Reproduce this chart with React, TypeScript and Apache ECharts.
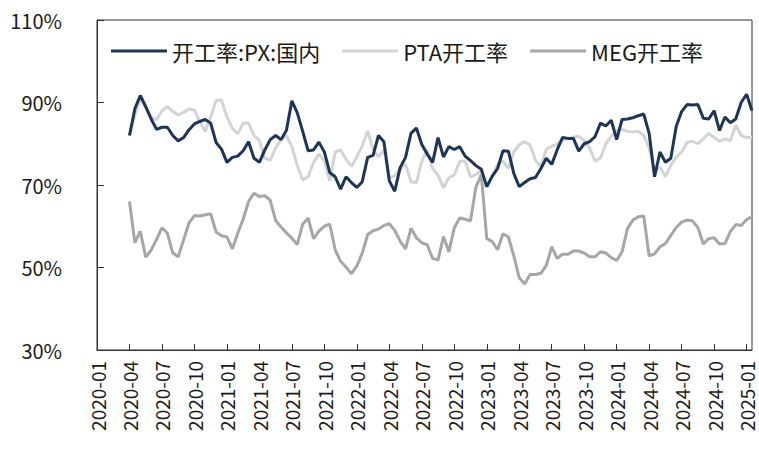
import React, { useEffect, useRef } from "react";
import * as echarts from "echarts";

// x positions: months since 2020-01, data every half month starting 2020-04
const startMonth = 3;
const stepMonth = 0.5;

const yTicks = [30, 50, 70, 90, 110];

const pxRate = [
  82, 88.5, 91.7, 89, 86, 83.5, 84, 84, 82, 80.7,
  81.5, 83.4, 84.8, 85.4, 85.9, 85, 80.3, 78.7, 75.5, 76.7,
  77, 78.3, 80.5, 76.5, 75.5, 78.5, 81, 82, 81, 83.3,
  90.4, 87.5, 83, 78.3, 78.5, 80.4, 78, 73, 72, 69,
  72, 70.6, 69.4, 70.8, 76.7, 77.2, 82, 80.5, 71, 68.5,
  74.2, 76.7, 82.5, 83.8, 79.8, 77.5, 75.5, 81.5, 76.8, 79.3,
  78.6, 79.3, 77, 75.9, 74.7, 73.8, 69.6, 72.1, 74, 78.3,
  78.2, 72.8, 69.6, 70.6, 71.5, 71.8, 74, 76.5, 75, 78.5,
  81.5, 81.3, 81.3, 78.2, 80, 80.5, 81.7, 85, 84.3, 85.7,
  81, 85.9, 86, 86.3, 86.8, 87.2, 82.5, 72, 78, 75.5,
  76.5, 84.2, 87.8, 89.5, 89.4, 89.5, 86.2, 86, 88, 83.2,
  86.5, 85.1, 86, 90, 92, 88,
];

const ptaRate = [
  82, 87, 91, 88.8, 86.5, 85.8, 88, 89, 87.8, 87,
  87.6, 88.4, 88.2, 85.3, 83, 86.5, 90.5, 90.6, 86.5, 83.7,
  82.4, 85, 85, 82, 80.8, 76.5, 76, 79, 81, 82,
  79.3, 74.7, 71.2, 72, 75.5, 77.5, 75.8, 71, 78, 78.5,
  76.3, 74.5, 76.8, 79.5, 83.1, 78.7, 76.8, 78.5, 71.8, 72.2,
  73.9, 75, 70.8, 70.6, 75.7, 78.5, 74, 72.4, 69.3, 71.7,
  72.5, 75.7, 75.8, 72, 72.5, 73.5, 69.5, 72, 75, 75.8,
  74, 78, 79.8, 80.5, 79.7, 76, 74.5, 78.7, 79.4, 79.9,
  80.9, 81.2, 81.6, 81.8, 80.8, 79, 75.8, 76.5, 80, 81.8,
  83.2, 83.5, 83, 82.9, 83, 82, 79, 73.1, 74.4, 72,
  74.8, 76.7, 78, 80.3, 80.6, 80, 81.2, 82.5, 81.5, 80.6,
  81.2, 80.7, 84.5, 82, 81.5, 81.5,
];

const megRate = [
  66, 56, 58.8, 52.5, 54.2, 56.8, 59.6, 58.3, 53.5, 52.6,
  56.7, 60.8, 62.6, 62.5, 62.8, 63, 58.6, 57.7, 57.4, 54.5,
  58.3, 61.7, 66, 68, 67.2, 67.4, 66.3, 61.4, 59.8, 58.4,
  57.1, 55.6, 60.5, 62, 57, 58.8, 60, 60.5, 54.3, 51.5,
  50.1, 48.5, 50.4, 53.5, 58, 58.9, 59.3, 60.2, 60.6, 59,
  56.4, 54.5, 59.5, 57.2, 56, 55.5, 52.2, 51.8, 57.5, 53.8,
  59.6, 62, 61.7, 61.3, 69.5, 72.5, 57, 56.3, 54.3, 58.2,
  57.4, 52.8, 47.5, 46, 48.3, 48.3, 48.6, 50.5, 55, 52.2,
  53.2, 53.2, 54, 54, 53.5, 52.6, 52.6, 53.8, 53.5, 52.4,
  51.7, 53.8, 59.5, 61.5, 62.3, 62.5, 52.8, 53.3, 55, 55.8,
  57.8, 59.7, 61, 61.5, 61.3, 59.7, 55.7, 57, 57.2, 55.7,
  55.8, 58.7, 60.4, 60.2, 61.6, 62.3,
];

const seriesNames = ["开工率:PX:国内", "PTA开工率", "MEG开工率"];
const seriesColors = ["#1d3557", "#d4d4d4", "#a6a6a6"];

const toPairs = (arr: number[]) =>
  arr.map((v, i) => [startMonth + i * stepMonth, v]);

const monthLabel = (m: number) => {
  if (Math.abs(m - Math.round(m)) > 1e-6 || Math.round(m) % 3 !== 0) return "";
  const mm = Math.round(m);
  const y = 2020 + Math.floor(mm / 12);
  const mo = (mm % 12) + 1;
  return `${y}-${mo < 10 ? "0" + mo : mo}`;
};

const FONT = "'Noto Sans CJK SC', 'Microsoft YaHei', sans-serif";

export default function App() {
  const ref = useRef<HTMLDivElement>(null);
  useEffect(() => {
    if (!ref.current) return;
    const chart = echarts.init(ref.current, undefined, { renderer: "svg" });
    const datasets = [pxRate, ptaRate, megRate];
    chart.setOption({
      animation: false,
      backgroundColor: "#ffffff",
      textStyle: { fontFamily: FONT },
      grid: {
        left: 97,
        right: 7,
        top: 20,
        bottom: 114,
        show: true,
        borderColor: "#333",
        borderWidth: 1,
        containLabel: false,
      },
      legend: {
        left: 106,
        top: 35,
        itemWidth: 56,
        itemHeight: 3,
        itemGap: 22,
        icon: "rect",
        textStyle: { fontSize: 22, color: "#1a1a1a", fontFamily: FONT },
        data: seriesNames,
      },
      xAxis: {
        type: "value",
        min: 0,
        max: 60.5,
        interval: 3,
        splitLine: { show: false },
        axisLine: { show: true, lineStyle: { color: "#333", width: 1 } },
        axisTick: { show: true, inside: true, length: 6, lineStyle: { color: "#333" } },
        axisLabel: {
          rotate: 90,
          fontSize: 19,
          color: "#1a1a1a",
          margin: 11,
          showMaxLabel: false,
          formatter: (v: number) => monthLabel(v),
        },
      },
      yAxis: {
        type: "value",
        min: yTicks[0],
        max: yTicks[yTicks.length - 1],
        interval: 20,
        splitLine: { show: false },
        axisLine: { show: true, lineStyle: { color: "#333", width: 1 } },
        axisTick: { show: true, inside: true, length: 7, lineStyle: { color: "#333" } },
        axisLabel: {
          fontSize: 20,
          color: "#1a1a1a",
          margin: 35,
          formatter: "{value}%",
        },
      },
      series: seriesNames.map((name, k) => ({
        name,
        type: "line",
        data: toPairs(datasets[k]),
        showSymbol: false,
        symbol: "none",
        z: k === 0 ? 5 : 3 - k + 2,
        lineStyle: { color: seriesColors[k], width: 3 },
        itemStyle: { color: seriesColors[k] },
      })),
    });
    return () => chart.dispose();
  }, []);
  return (
    <div
      ref={ref}
      style={{ position: "fixed", left: 0, top: 0, width: 759, height: 464 }}
    />
  );
}
